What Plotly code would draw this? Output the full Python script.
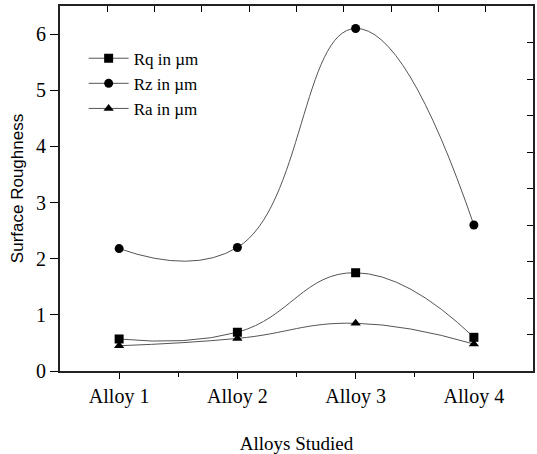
import plotly.graph_objects as go

alloys = ["Alloy 1", "Alloy 2", "Alloy 3", "Alloy 4"]
xpos = [1, 2, 3, 4]
rq = [0.57, 0.69, 1.75, 0.60]
rz = [2.18, 2.20, 6.10, 2.60]
ra = [0.45, 0.58, 0.85, 0.48]

serif = "Liberation Serif, Times New Roman, serif"
fig = go.Figure()
for name, vals, sym in [("Rq in µm", rq, "square"), ("Rz in µm", rz, "circle"), ("Ra in µm", ra, "triangle-up")]:
    fig.add_trace(go.Scatter(
        x=xpos, y=vals, name=name, mode="lines+markers",
        line=dict(shape="spline", smoothing=1.3, color="#555555", width=1),
        marker=dict(symbol=sym, size=9, color="black"),
    ))
# helper invisible trace for the mirrored frame axes
fig.add_trace(go.Scatter(x=[0], y=[0], xaxis="x2", yaxis="y2", mode="markers",
                         marker=dict(opacity=0), showlegend=False, hoverinfo="skip"))

fig.update_layout(
    width=537, height=454,
    margin=dict(l=60, r=4, t=6, b=83),
    paper_bgcolor="white", plot_bgcolor="white",
    showlegend=True,
    legend=dict(x=0.05, y=0.905, xanchor="left", yanchor="top",
                font=dict(family=serif, size=17, color="black"),
                bgcolor="rgba(0,0,0,0)", itemwidth=40, tracegroupgap=0),
    xaxis=dict(range=[0.5, 4.5], tickvals=xpos, ticktext=alloys, automargin=False,
               ticks="outside", ticklen=6, tickwidth=1, tickcolor="black",
               minor=dict(tickvals=[1.5, 2.5, 3.5], ticks="outside", ticklen=4, tickcolor="black"),
               showline=True, linecolor="#222", linewidth=2, showgrid=False, zeroline=False,
               tickfont=dict(family=serif, size=20, color="black"),
               title=dict(text="Alloys Studied", font=dict(family=serif, size=19, color="black"), standoff=30)),
    yaxis=dict(range=[0, 6.5], tickvals=[0, 1, 2, 3, 4, 5, 6], automargin=False,
               ticks="outside", ticklen=8, tickwidth=1, tickcolor="black",
               showline=True, linecolor="#222", linewidth=2, showgrid=False, zeroline=False,
               tickfont=dict(family=serif, size=20, color="black"),
               title=dict(text="Surface Roughness", font=dict(family="Liberation Sans, Arial, sans-serif", size=17, color="black"), standoff=8)),
    xaxis2=dict(overlaying="x", side="top", range=[0, 10], tickvals=list(range(1, 10)), automargin=False,
                ticks="inside", ticklen=6, tickcolor="black", showticklabels=False,
                showline=True, linecolor="#222", linewidth=2, showgrid=False, zeroline=False),
    yaxis2=dict(overlaying="y", side="right", range=[0, 10], tickvals=list(range(1, 10)), automargin=False,
                ticks="inside", ticklen=6, tickcolor="black", showticklabels=False,
                showline=True, linecolor="#222", linewidth=2, showgrid=False, zeroline=False),
)
fig.write_html("out.html", config={"displayModeBar": False},
               post_script="document.body.style.margin='0';")
